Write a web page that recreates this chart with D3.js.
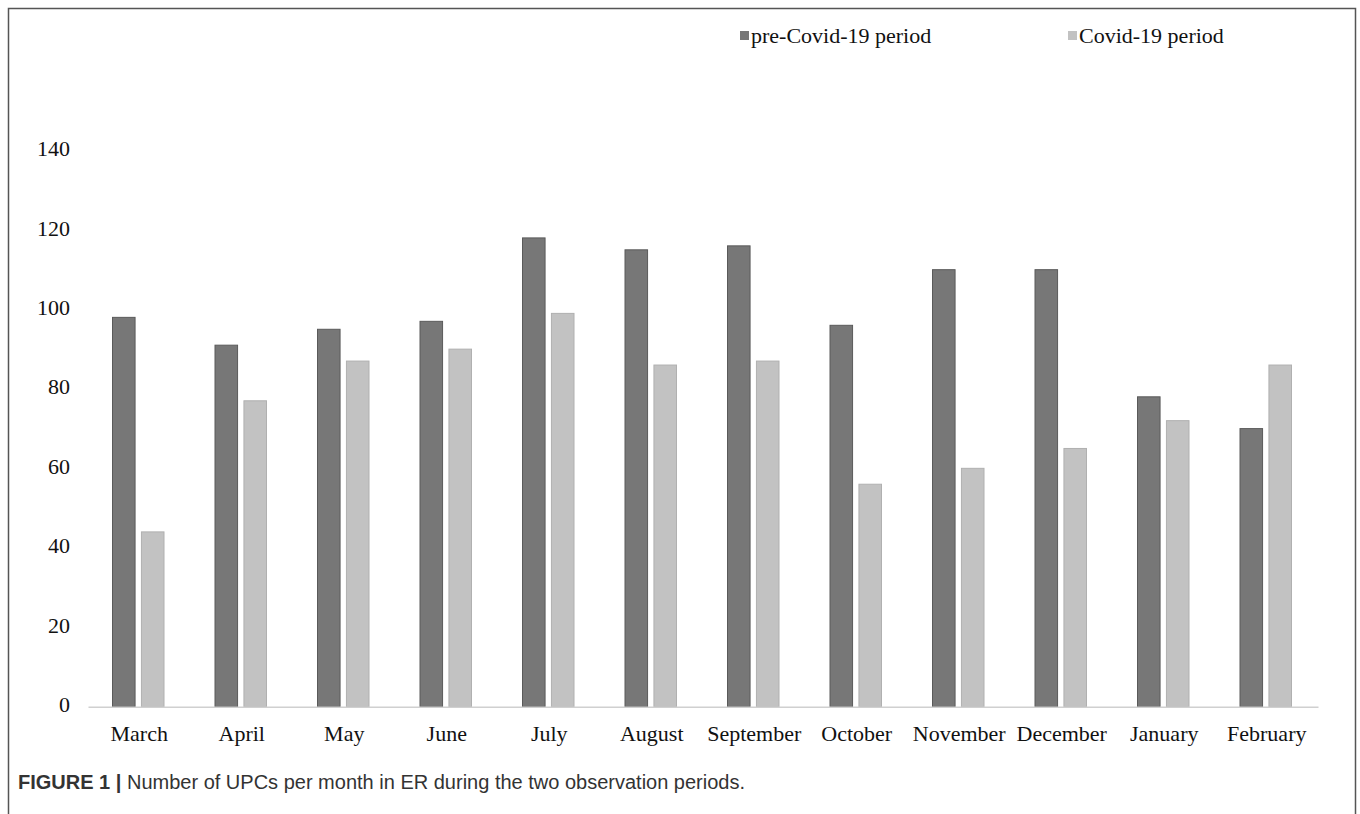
<!DOCTYPE html>
<html>
<head>
<meta charset="utf-8">
<script src="https://cdn.jsdelivr.net/npm/d3@7"></script>
<style>
  html, body { margin: 0; padding: 0; background: #fff; }
  svg { display: block; }
</style>
</head>
<body>
<svg id="chart" width="1360" height="814"></svg>
<script>
const months = ["March","April","May","June","July","August","September","October","November","December","January","February"];
const seriesNames = ["pre-Covid-19 period","Covid-19 period"];
const preCovid = [98, 91, 95, 97, 118, 115, 116, 96, 110, 110, 78, 70];
const covid = [44, 77, 87, 90, 99, 86, 87, 56, 60, 65, 72, 86];
const yTicks = [0, 20, 40, 60, 80, 100, 120, 140];
const captionBold = "FIGURE 1 |";
const captionText = " Number of UPCs per month in ER during the two observation periods.";

const colors = ["#777777", "#c2c2c2"];
const strokes = ["#5a5a5a", "#b0b0b0"];

const svg = d3.select("#chart");
const serif = "'Liberation Serif', 'Times New Roman', serif";

// figure frame
svg.append("path")
  .attr("d", "M8.5,814 L8.5,8.5 L1355.5,8.5 L1355.5,814")
  .attr("fill", "none").attr("stroke", "#555").attr("stroke-width", 1.5);

const x0 = d3.scaleBand().domain(months).range([88, 1318]).paddingInner(0).paddingOuter(0);
const x1 = d3.scaleBand().domain(seriesNames).range([24.5, 76]).paddingInner(0.22).paddingOuter(0);
const y = d3.scaleLinear().domain([0, 140]).range([706.7, 150.5]);

const data = months.map((m, i) => ({ month: m, values: [preCovid[i], covid[i]] }));

// bars
const groups = svg.append("g").selectAll("g").data(data).join("g")
  .attr("transform", d => `translate(${x0(d.month)},0)`);
groups.selectAll("rect").data(d => d.values.map((v, j) => ({ v, s: seriesNames[j], j })))
  .join("rect")
  .attr("x", d => x1(d.s))
  .attr("y", d => y(d.v))
  .attr("width", x1.bandwidth())
  .attr("height", d => y(0) - y(d.v))
  .attr("fill", d => colors[d.j])
  .attr("stroke", d => strokes[d.j])
  .attr("stroke-width", 1);

// x axis line
const xAxis = d3.axisBottom(x0).tickSize(0).tickPadding(19);
const gx = svg.append("g").attr("transform", `translate(0,${y(0)})`).call(xAxis);
gx.select(".domain").attr("stroke", "#d0d0d0").attr("stroke-width", 1.5);
gx.selectAll("text").attr("font-family", serif).attr("font-size", 22).attr("fill", "#111");

// y axis labels (no line)
const yAxis = d3.axisLeft(y).tickValues(yTicks).tickSize(0).tickPadding(0);
const gy = svg.append("g").attr("transform", "translate(70,-2)").call(yAxis);
gy.select(".domain").remove();
gy.selectAll("text").attr("font-family", serif).attr("font-size", 22).attr("fill", "#111");

// legend
const legendX = [740, 1068];
const leg = svg.append("g").selectAll("g").data(seriesNames).join("g")
  .attr("transform", (d, i) => `translate(${legendX[i]},36)`);
leg.append("rect").attr("x", 0).attr("y", -5).attr("width", 9).attr("height", 9)
  .attr("fill", (d, i) => colors[i]);
leg.append("text").attr("x", 11).attr("y", 7)
  .attr("font-family", serif).attr("font-size", 22).attr("fill", "#111")
  .text(d => d);

// caption
const cap = svg.append("text").attr("x", 18).attr("y", 789)
  .attr("font-family", "'Liberation Sans', Arial, sans-serif").attr("font-size", 20).attr("fill", "#333");
cap.append("tspan").attr("font-weight", "bold").text(captionBold);
cap.append("tspan").text(captionText);
</script>
</body>
</html>
